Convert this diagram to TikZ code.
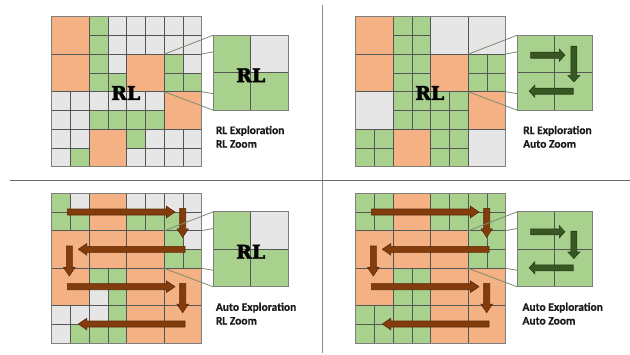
\documentclass[tikz,border=0pt]{standalone}
\usepackage{fontspec}
\setmainfont{Carlito}[BoldFont={Carlito Bold}]
\newfontfamily\rlfont{DejaVu Serif Bold}[FakeBold=2.2]
\newfontfamily\lblfont{Carlito Bold}[FakeBold=0.5]
\definecolor{cor}{HTML}{F4B183}
\definecolor{cgr}{HTML}{A9D18E}
\definecolor{cgy}{HTML}{E7E6E6}
\definecolor{cln}{HTML}{555555}
\definecolor{cbox}{HTML}{7F7F7F}
\definecolor{cbr}{HTML}{843C0C}
\definecolor{cbrd}{HTML}{5C2A08}
\definecolor{cdg}{HTML}{385723}
\definecolor{cdgd}{HTML}{263D17}
\definecolor{ccon}{HTML}{7D8B70}
\definecolor{ctxt}{HTML}{1A1A1A}
\tikzset{
  cellline/.style={draw=cln, line width=0.8pt},
  boxline/.style={draw=cbox, line width=1pt},
  conline/.style={draw=ccon, line width=0.8pt},
  lbl/.style={font=\lblfont\fontsize{11.5}{14}\selectfont, text=ctxt, inner sep=0pt},
  rltext/.style={font=\rlfont\fontsize{19}{20}\selectfont, inner sep=0pt},
  brownarrow/.style={fill=cbr, draw=cbrd, line width=0.6pt, line join=miter},
  greenarrow/.style={fill=cdg, draw=cdgd, line width=0.6pt, line join=miter},
  divline/.style={line width=1.2pt}
}
% fine cell (col,row,colour)
\newcommand\qfine[3]{\filldraw[cellline, fill=#3] ({#1*18.75},{#2*18.75}) rectangle ++(18.75,18.75);}
% coarse cell
\newcommand\qcoarse[3]{\filldraw[cellline, fill=#3] ({#1*37.5},{#2*37.5}) rectangle ++(37.5,37.5);}
% coarse cell split into four fine cells
\newcommand\qsplit[3]{%
  \filldraw[cellline, fill=#3] ({#1*37.5},{#2*37.5}) rectangle ++(18.75,18.75);
  \filldraw[cellline, fill=#3] ({#1*37.5+18.75},{#2*37.5}) rectangle ++(18.75,18.75);
  \filldraw[cellline, fill=#3] ({#1*37.5},{#2*37.5+18.75}) rectangle ++(18.75,18.75);
  \filldraw[cellline, fill=#3] ({#1*37.5+18.75},{#2*37.5+18.75}) rectangle ++(18.75,18.75);}
% horizontal block arrow: x1, x2, y, style, headhalf, headlen
\newcommand\qharrow[6]{%
  \pgfmathsetmacro\qhd{sign(#2-#1)}%
  \filldraw[#4] (#1,{#3-3}) -- ({#2-\qhd*#6},{#3-3}) -- ({#2-\qhd*#6},{#3-#5}) -- (#2,#3)
     -- ({#2-\qhd*#6},{#3+#5}) -- ({#2-\qhd*#6},{#3+3}) -- (#1,{#3+3}) -- cycle;}
% vertical block arrow: x, y1, y2, style, headhalf, headlen
\newcommand\qvarrow[6]{%
  \pgfmathsetmacro\qvd{sign(#3-#2)}%
  \filldraw[#4] ({#1-3},#2) -- ({#1-3},{#3-\qvd*#6}) -- ({#1-#5},{#3-\qvd*#6}) -- (#1,#3)
     -- ({#1+#5},{#3-\qvd*#6}) -- ({#1+3},{#3-\qvd*#6}) -- ({#1+3},#2) -- cycle;}
% callout lines
\newcommand\qcallout[1]{%
  \coordinate (#1st) at (112.5,37.5);
  \coordinate (#1sb) at (112.5,75);
  \coordinate (#1et) at (150,37.3);
  \coordinate (#1eb) at (150,75);
  \coordinate (#1tt) at (161.5,18.5);
  \coordinate (#1tb) at (161.5,93.5);
  \coordinate (#1ut) at (161.5,35.2);
  \coordinate (#1ub) at (161.5,77);
  \draw[conline] (#1et) -- (#1ut);
  \draw[conline] (#1eb) -- (#1ub);
  \draw[conline] (#1st) -- (#1tt);
  \draw[conline] (#1sb) -- (#1tb);}
\newcommand\qrlbox{%
  \filldraw[cellline, fill=cgr] (0,0) rectangle ++(37.5,37.5);
  \filldraw[cellline, fill=cgy] (37.5,0) rectangle ++(37.5,37.5);
  \filldraw[cellline, fill=cgr] (0,37.5) rectangle ++(37.5,37.5);
  \filldraw[cellline, fill=cgr] (37.5,37.5) rectangle ++(37.5,37.5);
  \draw[boxline] (0,0) rectangle (75,75);}
\newcommand\qautobox[1]{%
  \filldraw[cellline, fill=cgr] (0,0) rectangle ++(37.5,37.5);
  \filldraw[cellline, fill=cgr] (37.5,0) rectangle ++(37.5,37.5);
  \filldraw[cellline, fill=cgr] (0,37.5) rectangle ++(37.5,37.5);
  \filldraw[cellline, fill=cgr] (37.5,37.5) rectangle ++(37.5,37.5);
  \draw[boxline] (0,0) rectangle (75,75);
  \qharrow{13.4}{47.7}{20}{greenarrow}{6}{5.5}
  \qvarrow{56.7}{#1}{46.7}{greenarrow}{6}{6.5}
  \qharrow{56}{12}{56}{greenarrow}{6}{5.5}}
\newcommand\qsnake{%
  \qharrow{15.6}{123.3}{18.7}{brownarrow}{5.75}{8.5}
  \qvarrow{131}{15}{44}{brownarrow}{5.75}{8.5}
  \qharrow{133.3}{26.6}{56}{brownarrow}{5.75}{8.5}
  \qvarrow{17.6}{52.7}{82.7}{brownarrow}{5.75}{8.5}
  \qharrow{15.6}{123.3}{93.4}{brownarrow}{5.75}{8.5}
  \qvarrow{131}{90}{119.4}{brownarrow}{5.75}{8.5}
  \qharrow{133.3}{26.6}{130.7}{brownarrow}{5.75}{8.5}}
\begin{document}
\begin{tikzpicture}[x=1pt,y=-1pt]
\useasboundingbox (0,0) rectangle (630,354);
\fill[white] (0,0) rectangle (630,354);
% dividers
\coordinate (dvt) at (322.3,5);
\coordinate (dvb) at (322.3,352.7);
\coordinate (dhl) at (10,180.3);
\coordinate (dhr) at (630,180.3);
\draw[divline, draw=black!45] (dvt) -- (dvb);
\draw[divline, draw=black!58, line width=1pt] (dhl) -- (dhr);

% ---------------- Q1: RL exploration, RL zoom
\begin{scope}[shift={(51.7,16.7)}]
  \foreach \c/\r in {0/0,0/1,2/1,3/2,1/3} {\qcoarse{\c}{\r}{cor}}
  \foreach \c/\r/\k in {2/0/cgr,3/0/cgy,4/0/cgy,5/0/cgy,6/0/cgy,7/0/cgy,
    2/1/cgr,3/1/cgy,4/1/cgy,5/1/cgy,6/1/cgy,7/1/cgy,
    2/2/cgr,3/2/cgy,6/2/cgr,7/2/cgy,
    2/3/cgr,3/3/cgr,6/3/cgr,7/3/cgr,
    0/4/cgy,1/4/cgy,2/4/cgy,3/4/cgy,4/4/cgy,5/4/cgy,
    0/5/cgy,1/5/cgy,2/5/cgr,3/5/cgr,4/5/cgr,5/5/cgr,
    0/6/cgy,1/6/cgy,4/6/cgr,5/6/cgy,6/6/cgy,7/6/cgy,
    0/7/cgy,1/7/cgr,4/7/cgy,5/7/cgy,6/7/cgy,7/7/cgy} {\qfine{\c}{\r}{\k}}
  \draw[boxline] (0,0) rectangle (150,150);
  \node[rltext] (q1rl) at (74,76.3) {RL};
  \qcallout{qa}
  \begin{scope}[shift={(161.5,18.5)}]
    \qrlbox
    \node[rltext] (q1zrl) at (37.5,40) {RL};
  \end{scope}
  \node[lbl, anchor=base west] (q1l1) at (164,117.3) {RL Exploration};
  \node[lbl, anchor=base west] (q1l2) at (164,131) {RL Zoom};
\end{scope}

% ---------------- Q2: RL exploration, auto zoom
\begin{scope}[shift={(355.7,16.7)}]
  \foreach \c/\r/\k in {0/0/cor,2/0/cgy,3/0/cgy,0/1/cor,2/1/cor,0/2/cgy,3/2/cor,1/3/cor,3/3/cgy} {\qcoarse{\c}{\r}{\k}}
  \foreach \c/\r in {1/0,1/1,3/1,1/2,2/2,0/3,2/3} {\qsplit{\c}{\r}{cgr}}
  \draw[boxline] (0,0) rectangle (150,150);
  \node[rltext] (q2rl) at (74,76.3) {RL};
  \qcallout{qb}
  \begin{scope}[shift={(161.5,18.5)}]
    \qautobox{11}
  \end{scope}
  \node[lbl, anchor=base west] (q2l1) at (167.3,117.3) {RL Exploration};
  \node[lbl, anchor=base west] (q2l2) at (167.3,131) {Auto Zoom};
\end{scope}

% ---------------- Q3: auto exploration, RL zoom
\begin{scope}[shift={(51.7,193.3)}]
  \foreach \c/\r in {1/0,0/1,1/1,2/1,0/2,2/2,3/2,2/3,3/3} {\qcoarse{\c}{\r}{cor}}
  \foreach \c/\r/\k in {0/0/cgr,1/0/cgy,4/0/cgy,5/0/cgy,6/0/cgy,7/0/cgy,
    0/1/cgr,1/1/cgr,4/1/cgr,5/1/cgr,6/1/cgr,7/1/cgy,
    6/2/cgr,7/2/cgy,6/3/cgr,7/3/cgr,
    2/4/cgr,3/4/cgr,2/5/cgy,3/5/cgr,
    0/6/cgy,1/6/cgy,2/6/cgy,3/6/cgr,
    0/7/cgy,1/7/cgr,2/7/cgr,3/7/cgr} {\qfine{\c}{\r}{\k}}
  \draw[boxline] (0,0) rectangle (150,150);
  \qsnake
  \qcallout{qc}
  \begin{scope}[shift={(161.5,18.5)}]
    \qrlbox
    \node[rltext] (q3zrl) at (37.5,40) {RL};
  \end{scope}
  \node[lbl, anchor=base west] (q3l1) at (164,117.5) {Auto Exploration};
  \node[lbl, anchor=base west] (q3l2) at (164,131.2) {RL Zoom};
\end{scope}

% ---------------- Q4: auto exploration, auto zoom
\begin{scope}[shift={(355.7,193.3)}]
  \foreach \c/\r in {1/0,0/1,1/1,2/1,0/2,2/2,3/2,2/3,3/3} {\qcoarse{\c}{\r}{cor}}
  \foreach \c/\r in {0/0,2/0,3/0,3/1,1/2,0/3,1/3} {\qsplit{\c}{\r}{cgr}}
  \draw[boxline] (0,0) rectangle (150,150);
  \qsnake
  \qcallout{qd}
  \begin{scope}[shift={(161.5,18.5)}]
    \qautobox{19.4}
  \end{scope}
  \node[lbl, anchor=base west] (q4l1) at (166.6,117.5) {Auto Exploration};
  \node[lbl, anchor=base west] (q4l2) at (166.6,131.2) {Auto Zoom};
\end{scope}
\end{tikzpicture}
\end{document}
